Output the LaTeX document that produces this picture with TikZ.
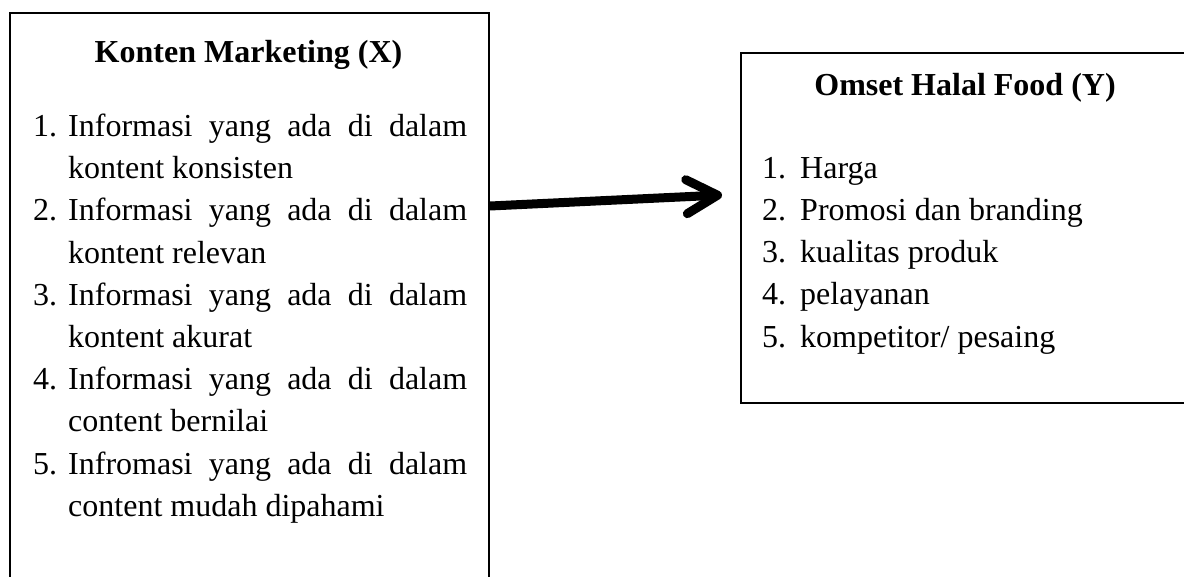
\documentclass[tikz,border=0pt]{standalone}
\usepackage{fontspec}
\setmainfont{Liberation Serif}
\usetikzlibrary{arrows.meta}
\tikzset{
  frame/.style={draw, line width=2pt, inner sep=0pt, anchor=north west},
  txt/.style={inner sep=0pt, anchor=base west, font=\fontsize{32pt}{40pt}\selectfont},
  ttl/.style={inner sep=0pt, anchor=base, font=\fontsize{32pt}{40pt}\selectfont\bfseries},
  bigarrow/.style={line width=9pt, -{Straight Barb[length=31pt, width=34pt, round]}}
}
\newcommand{\jline}[1]{\makebox[399pt][s]{#1}}
\begin{document}
\begin{tikzpicture}[x=1pt,y=-1pt]
\useasboundingbox (0,0) rectangle (1184,576);
\fill[white] (0,0) rectangle (1184,576);
\clip (0,0) rectangle (1184,576);
% boxes
\node[frame, minimum width=479pt, minimum height=620pt] (kx) at (9,12) {};
\node[frame, minimum width=450pt, minimum height=350pt] (oy) at (740,52) {};
% left titles and items
\node[ttl] (kxt) at (248.5,62) {Konten Marketing (X)};
\node[txt] (n1) at (33,136.5) {1.};
\node[txt] (a1) at (68,136.5) {\jline{Informasi yang ada di dalam}};
\node[txt] (b1) at (68,178.7) {kontent konsisten};
\node[txt] (n2) at (33,220.9) {2.};
\node[txt] (a2) at (68,220.9) {\jline{Informasi yang ada di dalam}};
\node[txt] (b2) at (68,263.1) {kontent relevan};
\node[txt] (n3) at (33,305.3) {3.};
\node[txt] (a3) at (68,305.3) {\jline{Informasi yang ada di dalam}};
\node[txt] (b3) at (68,347.5) {kontent akurat};
\node[txt] (n4) at (33,389.7) {4.};
\node[txt] (a4) at (68,389.7) {\jline{Informasi yang ada di dalam}};
\node[txt] (b4) at (68,431.9) {content bernilai};
\node[txt] (n5) at (33,474.1) {5.};
\node[txt] (a5) at (68,474.1) {\jline{Infromasi yang ada di dalam}};
\node[txt] (b5) at (68,516.3) {content mudah dipahami};
% right title and items
\node[ttl] (oyt) at (965,95) {Omset Halal Food (Y)};
\node[txt] (m1) at (762,178) {1.};
\node[txt] (c1) at (800,178) {Harga};
\node[txt] (m2) at (762,220.3) {2.};
\node[txt] (c2) at (800,220.3) {Promosi dan branding};
\node[txt] (m3) at (762,262.6) {3.};
\node[txt] (c3) at (800,262.6) {kualitas produk};
\node[txt] (m4) at (762,304.9) {4.};
\node[txt] (c4) at (800,304.9) {pelayanan};
\node[txt] (m5) at (762,347.2) {5.};
\node[txt] (c5) at (800,347.2) {kompetitor/ pesaing};
% arrow
\coordinate (from) at (490,206);
\coordinate (tip) at (722,195);
\draw[bigarrow] (from) -- (tip);
\end{tikzpicture}
\end{document}
